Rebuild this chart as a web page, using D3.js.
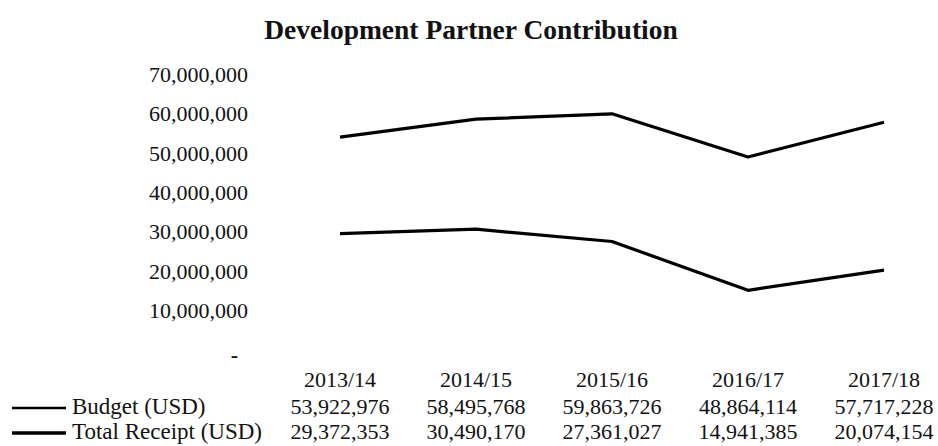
<!DOCTYPE html>
<html>
<head>
<meta charset="utf-8">
<script src="https://cdn.jsdelivr.net/npm/d3@7"></script>
<style>
  body { margin: 0; background: #fff; }
  text { font-family: "Liberation Serif", "Times New Roman", serif; fill: #111; }
</style>
</head>
<body>
<div id="chart"></div>
<script>

// values
var years = ["2013/14", "2014/15", "2015/16", "2016/17", "2017/18"];
var budget = [53922976, 58495768, 59863726, 48864114, 57717228];
var receipt = [29372353, 30490170, 27361027, 14941385, 20074154];
var seriesNames = ["Budget (USD)", "Total Receipt (USD)"];
var yTicks = [0, 10000000, 20000000, 30000000, 40000000, 50000000, 60000000, 70000000];

var width = 938, height = 446;

var svg = d3.select("#chart").append("svg")
    .attr("width", width)
    .attr("height", height);

var x = d3.scalePoint().domain(years).range([340, 884]);
var y = d3.scaleLinear().domain([0, 70000000]).range([349, 74]);

var fmt = d3.format(",");

svg.append("text")
    .attr("x", 471)
    .attr("y", 39)
    .attr("text-anchor", "middle")
    .style("font-size", "27.5px")
    .style("font-weight", "bold")
    .text("Development Partner Contribution");

// y axis, labels only (no line, no ticks)
var yAxis = d3.axisLeft(y)
    .tickValues(yTicks)
    .tickSize(0)
    .tickPadding(0)
    .tickFormat(function(d) { return d === 0 ? "-" : fmt(d); });

var gy = svg.append("g")
    .attr("transform", "translate(248,0)")
    .call(yAxis);
gy.select(".domain").remove();
gy.selectAll("text")
    .attr("font-family", null)
    .style("font-size", "22px")
    .attr("dy", "0.35em");
gy.selectAll(".tick").filter(function(d) { return d === 0; }).select("text")
    .attr("x", -10)
    .attr("dy", "0.55em")
    .style("font-weight", "bold");

var line = d3.line()
    .x(function(d, i) { return x(years[i]); })
    .y(function(d) { return y(d); });

svg.append("path")
    .datum(budget)
    .attr("fill", "none")
    .attr("stroke", "#000")
    .attr("stroke-width", 3.2)
    .attr("stroke-linejoin", "round")
    .attr("d", line);

svg.append("path")
    .datum(receipt)
    .attr("fill", "none")
    .attr("stroke", "#000")
    .attr("stroke-width", 3.2)
    .attr("stroke-linejoin", "round")
    .attr("d", line);

// data table under the chart
var rowY = [379, 406, 431];

svg.append("g").selectAll("text")
    .data(years)
    .enter().append("text")
    .attr("x", function(d) { return x(d); })
    .attr("y", rowY[0])
    .attr("dy", "0.35em")
    .attr("text-anchor", "middle")
    .style("font-size", "22px")
    .text(function(d) { return d; });

[budget, receipt].forEach(function(vals, k) {
    var row = svg.append("g");
    row.selectAll("text")
        .data(vals)
        .enter().append("text")
        .attr("x", function(d, i) { return x(years[i]); })
        .attr("y", rowY[k + 1])
        .attr("dy", "0.35em")
        .attr("text-anchor", "middle")
        .style("font-size", "22px")
        .text(function(d) { return fmt(d); });

    // legend key
    row.append("line")
        .attr("x1", 12).attr("x2", 66)
        .attr("y1", rowY[k + 1] + 2).attr("y2", rowY[k + 1] + 2)
        .attr("stroke", "#000")
        .attr("stroke-width", k === 0 ? 2.6 : 3.4);
    row.append("text")
        .attr("x", 72)
        .attr("y", rowY[k + 1])
        .attr("dy", "0.35em")
        .style("font-size", "23px")
        .text(seriesNames[k]);
});

</script>
</body>
</html>
